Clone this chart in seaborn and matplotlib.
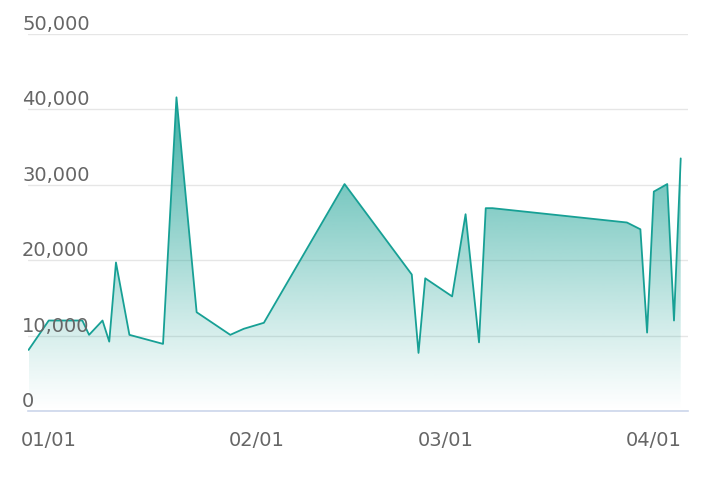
import numpy as np
import pandas as pd
import matplotlib
matplotlib.use("Agg")
import matplotlib.pyplot as plt
import matplotlib.dates as mdates
from matplotlib.colors import to_rgb
import seaborn as sns

# values
dates = ["2022-12-29", "2023-01-01", "2023-01-06", "2023-01-07", "2023-01-09",
         "2023-01-10", "2023-01-11", "2023-01-13", "2023-01-18", "2023-01-20",
         "2023-01-23", "2023-01-28", "2023-01-30", "2023-02-02", "2023-02-14",
         "2023-02-24", "2023-02-25", "2023-02-26", "2023-03-02", "2023-03-04",
         "2023-03-06", "2023-03-07", "2023-03-08", "2023-03-28", "2023-03-30",
         "2023-03-31", "2023-04-01", "2023-04-03", "2023-04-04", "2023-04-05"]
values = [8100, 12000, 12000, 10100, 12000,
          9200, 19700, 10100, 8900, 41600,
          13100, 10100, 10900, 11700, 30100,
          18100, 7700, 17600, 15200, 26100,
          9100, 26900, 26900, 25000, 24100,
          10400, 29100, 30100, 12000, 33500]
y_ticks = [0, 10000, 20000, 30000, 40000, 50000]

line_color = "#17a095"
fill_color = "#26a69a"
text_color = "#666666"
axis_color = "#ccd6eb"

df = pd.DataFrame({"date": pd.to_datetime(dates), "value": values})

sns.set_style("white")
plt.rcParams["font.family"] = ["DejaVu Sans"]

fig = plt.figure(figsize=(7.08, 4.78), dpi=100)
ax = fig.add_axes([28 / 708, 67 / 478, 660 / 708, 377 / 478])

sns.lineplot(data=df, x="date", y="value", ax=ax, color=line_color,
             linewidth=1.3, zorder=3)

# gradient area under the line
poly = ax.fill_between(df["date"], df["value"], 0, facecolor="none",
                       edgecolor="none")
xnum = mdates.date2num(df["date"])
ymax = df["value"].max()
grad = np.zeros((256, 1, 4))
grad[:, :, :3] = to_rgb(fill_color)
grad[:, 0, 3] = np.linspace(0.9, 0.0, 256) ** 1.1
img = ax.imshow(grad, extent=[xnum.min(), xnum.max(), 0, ymax],
                aspect="auto", origin="upper", zorder=2)
img.set_clip_path(poly.get_paths()[0], transform=ax.transData)

ax.set_xlim(pd.Timestamp("2022-12-28 22:00"), pd.Timestamp("2023-04-06 02:00"))
ax.set_ylim(0, 50000)

ax.xaxis.set_major_locator(mdates.MonthLocator())
ax.xaxis.set_major_formatter(mdates.DateFormatter("%m/%d"))
ax.set_xlabel("")
ax.set_ylabel("")

ax.set_yticks(y_ticks)
ax.yaxis.grid(True, color="#e6e6e6", linewidth=1)
ax.set_axisbelow(True)
ax.tick_params(axis="y", length=0, labelleft=False)
ax.tick_params(axis="x", length=11.5, width=1, color=axis_color, pad=3,
               labelsize=14, labelcolor=text_color)

for s in ["top", "right", "left"]:
    ax.spines[s].set_visible(False)
ax.spines["bottom"].set_color(axis_color)
ax.spines["bottom"].set_linewidth(1.2)

for v in y_ticks:
    ax.annotate(f"{v:,}", xy=(-6 / 660, v), xycoords=("axes fraction", "data"),
                xytext=(0, 4), textcoords="offset pixels", ha="left",
                va="baseline", fontsize=14, color=text_color, zorder=5,
                annotation_clip=False)

fig.savefig("out.png", dpi=100)
